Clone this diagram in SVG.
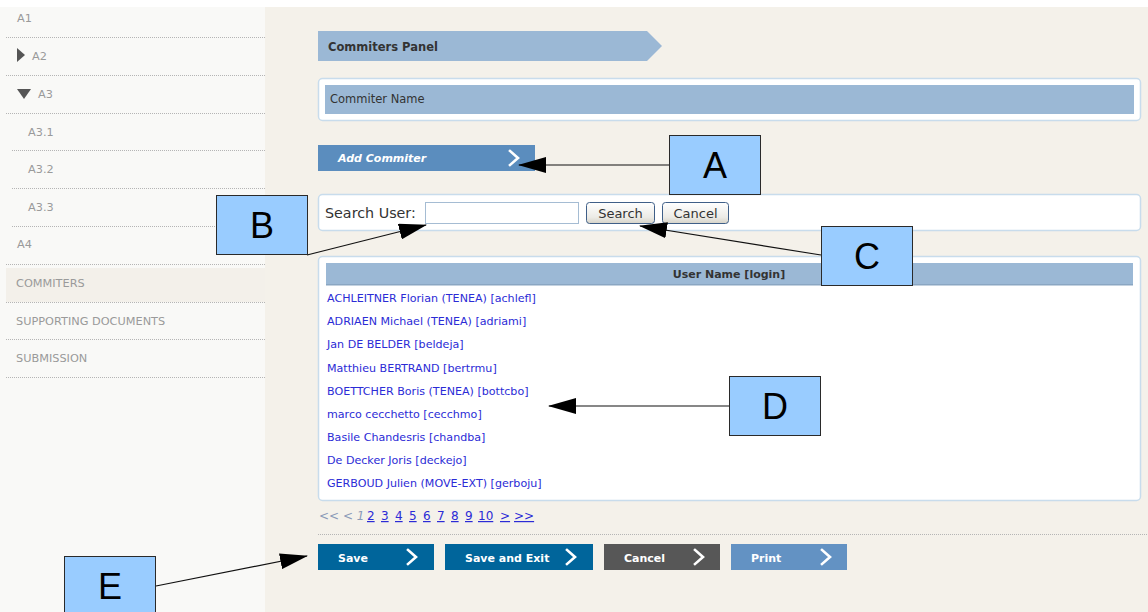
<svg xmlns="http://www.w3.org/2000/svg" width="1148" height="612" viewBox="0 0 1148 612">
  <defs>
    <style>
      .nav { font-family: "DejaVu Sans", Verdana, sans-serif; font-size: 11.3px; fill: #9a9a9a; }
      .dot { stroke: #b5b5b5; stroke-width: 1; stroke-dasharray: 1 1; }
      .ui { font-family: "DejaVu Sans", Verdana, sans-serif; fill: #333333; }
      .row { font-family: "DejaVu Sans", Verdana, sans-serif; font-size: 11.1px; fill: #2b2bd6; }
      .pg { font-family: "DejaVu Sans", Verdana, sans-serif; font-size: 12px; }
      .btn-t { font-family: "DejaVu Sans", Verdana, sans-serif; font-size: 11px; font-weight: bold; fill: #ffffff; }
      .chev { fill: none; stroke: #ffffff; stroke-width: 2.6; stroke-linecap: square; }
      .panel { fill: #ffffff; stroke: #c8dcec; stroke-width: 1.5; }
      .callout rect { fill: #99ccff; stroke: #2a2a2a; stroke-width: 1; }
      .callout text { font-family: "Liberation Sans", Arial, sans-serif; font-size: 36px; fill: #000000; text-anchor: middle; }
      .conn { stroke: #111111; stroke-width: 1.2; fill: none; marker-end: url(#head); }
    </style>
    <marker id="head" viewBox="0 0 28 16" refX="27" refY="8" markerWidth="28" markerHeight="16" markerUnits="userSpaceOnUse" orient="auto">
      <path d="M0,0 L28,8 L0,16 Z" fill="#000000"/>
    </marker>
    <linearGradient id="btnGrad" x1="0" y1="0" x2="0" y2="1">
      <stop offset="0" stop-color="#ffffff"/>
      <stop offset="0.7" stop-color="#ecebe6"/>
      <stop offset="1" stop-color="#d6d3c8"/>
    </linearGradient>
  </defs>

  <!-- page background -->
  <rect x="0" y="0" width="1148" height="612" fill="#ffffff"/>
  <rect x="0" y="7" width="265" height="605" fill="#f9f9f7"/>
  <rect x="265" y="7" width="883" height="605" fill="#f4f1ea"/>

  <!-- left navigation -->
  <g id="sidebar">
    <rect x="6" y="268" width="259" height="34" fill="#f3f0ea"/>
    <text class="nav" x="17" y="22">A1</text>
    <line class="dot" x1="6" y1="37.5" x2="265" y2="37.5"/>
    <path d="M17,48 L25,55 L17,62 Z" fill="#555555"/>
    <text class="nav" x="32" y="60">A2</text>
    <line class="dot" x1="6" y1="75.5" x2="265" y2="75.5"/>
    <path d="M17,89 L31,89 L24,99 Z" fill="#555555"/>
    <text class="nav" x="38" y="98">A3</text>
    <line class="dot" x1="6" y1="113.5" x2="265" y2="113.5"/>
    <text class="nav" x="28" y="136">A3.1</text>
    <line class="dot" x1="12" y1="150.5" x2="265" y2="150.5"/>
    <text class="nav" x="28" y="173">A3.2</text>
    <line class="dot" x1="12" y1="188.5" x2="265" y2="188.5"/>
    <text class="nav" x="28" y="211">A3.3</text>
    <line class="dot" x1="12" y1="226.5" x2="265" y2="226.5"/>
    <text class="nav" x="17" y="248">A4</text>
    <line class="dot" x1="6" y1="264.5" x2="265" y2="264.5"/>
    <text class="nav" x="16" y="287">COMMITERS</text>
    <line class="dot" x1="6" y1="302.5" x2="265" y2="302.5"/>
    <text class="nav" x="16" y="325">SUPPORTING DOCUMENTS</text>
    <line class="dot" x1="6" y1="339.5" x2="265" y2="339.5"/>
    <text class="nav" x="16" y="362">SUBMISSION</text>
    <line class="dot" x1="6" y1="377.5" x2="265" y2="377.5"/>
  </g>

  <!-- panel title -->
  <g id="panel-title">
    <path d="M318,31 L647,31 L662,46 L647,61 L318,61 Z" fill="#9bb8d5"/>
    <text class="ui" x="328" y="51" font-size="11.5" font-weight="bold" fill="#3a3a3a">Commiters Panel</text>
  </g>

  <!-- commiter name header -->
  <g id="commiter-name">
    <rect class="panel" x="318.5" y="78.5" width="822" height="42" rx="4"/>
    <rect x="325" y="85" width="809" height="29" fill="#9bb8d5"/>
    <text class="ui" x="330" y="103" font-size="11.5">Commiter Name</text>
  </g>

  <!-- add commiter button -->
  <g id="add-commiter">
    <rect x="318" y="145" width="217" height="26" fill="#5b8dbe"/>
    <text class="btn-t" x="338" y="162" font-style="italic">Add Commiter</text>
    <path class="chev" d="M510,151 L518,158 L510,165"/>
  </g>

  <!-- search row -->
  <g id="search">
    <rect class="panel" x="318.5" y="194.5" width="822" height="36" rx="4"/>
    <text class="ui" x="325" y="218" font-size="14.3">Search User:</text>
    <rect x="425.5" y="202.5" width="153" height="21" fill="#ffffff" stroke="#a5bcd3" stroke-width="1"/>
    <rect x="586.5" y="202.5" width="68" height="21" rx="3" fill="url(#btnGrad)" stroke="#3f5f88" stroke-width="1"/>
    <text class="ui" x="620.5" y="218" font-size="13" fill="#111111" text-anchor="middle">Search</text>
    <rect x="662.5" y="202.5" width="66" height="21" rx="3" fill="url(#btnGrad)" stroke="#3f5f88" stroke-width="1"/>
    <text class="ui" x="695.5" y="218" font-size="13" fill="#111111" text-anchor="middle">Cancel</text>
  </g>

  <!-- user table -->
  <g id="user-table">
    <rect class="panel" x="318.5" y="256.5" width="822" height="244" rx="4"/>
    <rect x="326" y="263" width="807" height="22" fill="#9bb8d5"/>
    <rect x="326" y="284" width="807" height="1.5" fill="#8aa6c2"/>
    <text class="ui" x="729" y="278" font-size="11" font-weight="bold" fill="#333333" text-anchor="middle">User Name [login]</text>
    <text class="row" x="327" y="302">ACHLEITNER Florian (TENEA) [achlefl]</text>
    <text class="row" x="327" y="325">ADRIAEN Michael (TENEA) [adriami]</text>
    <text class="row" x="327" y="348">Jan DE BELDER [beldeja]</text>
    <text class="row" x="327" y="372">Matthieu BERTRAND [bertrmu]</text>
    <text class="row" x="327" y="395">BOETTCHER Boris (TENEA) [bottcbo]</text>
    <text class="row" x="327" y="418">marco cecchetto [cecchmo]</text>
    <text class="row" x="327" y="441">Basile Chandesris [chandba]</text>
    <text class="row" x="327" y="464">De Decker Joris [deckejo]</text>
    <text class="row" x="327" y="487">GERBOUD Julien (MOVE-EXT) [gerboju]</text>
  </g>

  <!-- pagination -->
  <g id="pagination" class="pg">
    <text x="319" y="520" fill="#8a9ab8">&lt;&lt; &lt; <tspan font-style="italic">1</tspan></text>
    <g fill="#2b2bd6">
      <text x="367" y="520" text-decoration="underline">2</text>
      <text x="381" y="520" text-decoration="underline">3</text>
      <text x="395" y="520" text-decoration="underline">4</text>
      <text x="409" y="520" text-decoration="underline">5</text>
      <text x="423" y="520" text-decoration="underline">6</text>
      <text x="437" y="520" text-decoration="underline">7</text>
      <text x="451" y="520" text-decoration="underline">8</text>
      <text x="465" y="520" text-decoration="underline">9</text>
      <text x="478" y="520" text-decoration="underline">10</text>
      <text x="500" y="520" text-decoration="underline">&gt;</text>
      <text x="514" y="520" text-decoration="underline">&gt;&gt;</text>
    </g>
    <line class="dot" x1="318" y1="534.5" x2="1148" y2="534.5"/>
  </g>

  <!-- action buttons -->
  <g id="btn-save">
    <rect x="318" y="544" width="116" height="26" fill="#00659b"/>
    <text class="btn-t" x="338" y="562">Save</text>
    <path class="chev" d="M408,550 L416,557 L408,564"/>
  </g>
  <g id="btn-save-exit">
    <rect x="445" y="544" width="148" height="26" fill="#00659b"/>
    <text class="btn-t" x="465" y="562">Save and Exit</text>
    <path class="chev" d="M567,550 L575,557 L567,564"/>
  </g>
  <g id="btn-cancel">
    <rect x="604" y="544" width="116" height="26" fill="#575757"/>
    <text class="btn-t" x="624" y="562">Cancel</text>
    <path class="chev" d="M695,550 L703,557 L695,564"/>
  </g>
  <g id="btn-print">
    <rect x="731" y="544" width="116" height="26" fill="#6392c3"/>
    <text class="btn-t" x="751" y="562">Print</text>
    <path class="chev" d="M822,550 L830,557 L822,564"/>
  </g>

  <!-- callout connectors -->
  <g id="connectors">
    <line class="conn" x1="669" y1="165" x2="519" y2="165"/>
    <line class="conn" x1="307" y1="255" x2="426" y2="225"/>
    <line class="conn" x1="821" y1="255" x2="640" y2="226"/>
    <line class="conn" x1="729" y1="406" x2="549" y2="406"/>
    <line class="conn" x1="156" y1="586" x2="307" y2="556"/>
  </g>

  <!-- callouts -->
  <g id="callout-A" class="callout">
    <rect x="669.5" y="135.5" width="91" height="59"/>
    <text x="715" y="178">A</text>
  </g>
  <g id="callout-B" class="callout">
    <rect x="216.5" y="195.5" width="91" height="59"/>
    <text x="262" y="238">B</text>
  </g>
  <g id="callout-C" class="callout">
    <rect x="821.5" y="226.5" width="91" height="59"/>
    <text x="867" y="269">C</text>
  </g>
  <g id="callout-D" class="callout">
    <rect x="729.5" y="376.5" width="91" height="59"/>
    <text x="775" y="419">D</text>
  </g>
  <g id="callout-E" class="callout">
    <rect x="64.5" y="556.5" width="91" height="59"/>
    <text x="110" y="599">E</text>
  </g>
</svg>
